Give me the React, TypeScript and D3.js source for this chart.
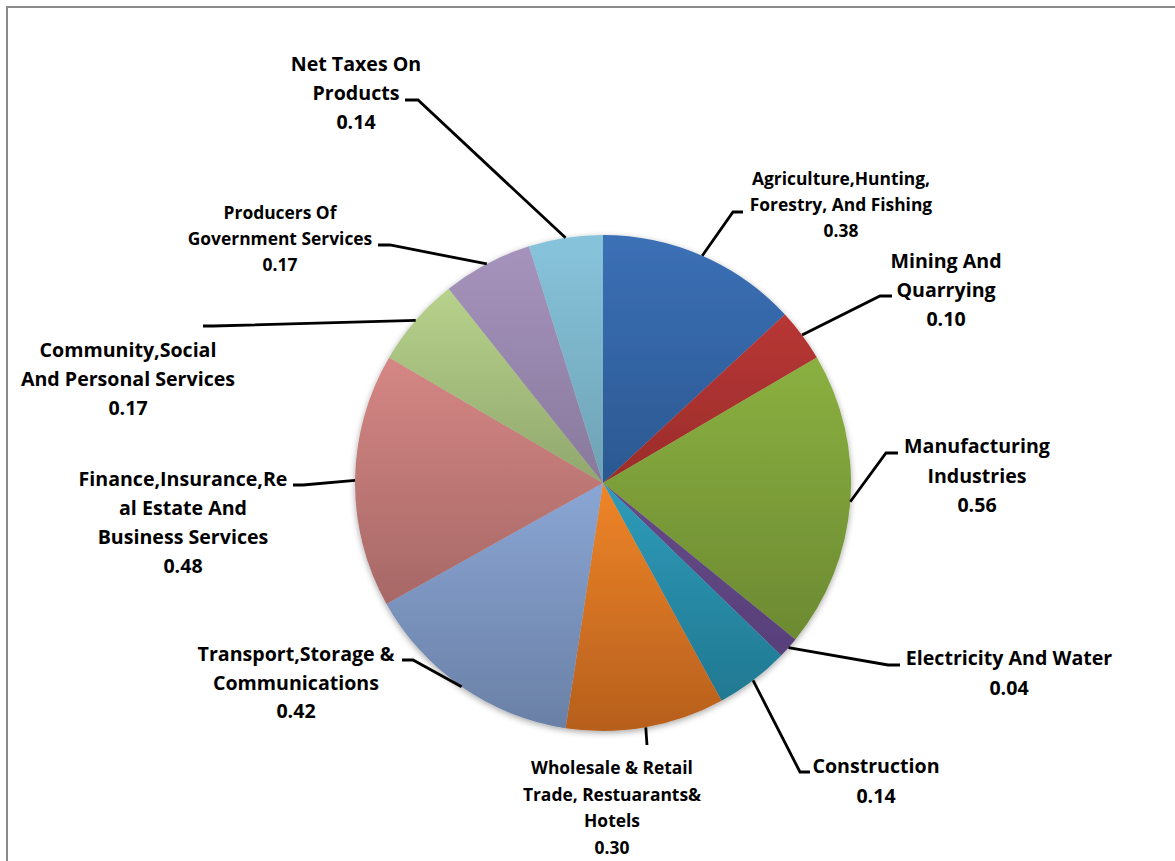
import React from 'react';
import * as d3 from 'd3';

// sector shares
const sectors = [
  'Agriculture,Hunting, Forestry, And Fishing',
  'Mining And Quarrying',
  'Manufacturing Industries',
  'Electricity And Water',
  'Construction',
  'Wholesale & Retail Trade, Restuarants& Hotels',
  'Transport,Storage & Communications',
  'Finance,Insurance,Real Estate And Business Services',
  'Community,Social And Personal Services',
  'Producers Of Government Services',
  'Net Taxes On Products',
];
const values = [0.38, 0.10, 0.56, 0.04, 0.14, 0.30, 0.42, 0.48, 0.17, 0.17, 0.14];
// wrapped label lines as they appear in the chart
const labelLines = [
  ['Agriculture,Hunting,', 'Forestry, And Fishing'],
  ['Mining And', 'Quarrying'],
  ['Manufacturing', 'Industries'],
  ['Electricity And Water'],
  ['Construction'],
  ['Wholesale & Retail', 'Trade, Restuarants&', 'Hotels'],
  ['Transport,Storage &', 'Communications'],
  ['Finance,Insurance,Re', 'al Estate And', 'Business Services'],
  ['Community,Social', 'And Personal Services'],
  ['Producers Of', 'Government Services'],
  ['Net Taxes On', 'Products'],
];

// gradient top / bottom colours per slice
const topColors = ['#3b70b6', '#b83735', '#8bb040', '#654a88', '#2e9cba', '#ef8528', '#8aa6d4', '#d58784', '#b7d28c', '#a693bd', '#87c4dc'];
const bottomColors = ['#2b5891', '#9a2c2a', '#6c8a32', '#584079', '#217891', '#b65f1d', '#6a80a6', '#a66866', '#91a76d', '#88799c', '#6ea2b4'];

// label placement: centre x, first baseline, line step, font size, elbow point, elbow length
const BIG = 19.6;
const SMALL = 17.4;
const labelLayout = [
  { x: 841, y: 185, step: 26, size: SMALL, ex: 733, ey: 212, el: 10 },
  { x: 946, y: 268, step: 29, size: BIG, ex: 880, ey: 296, el: 12 },
  { x: 977, y: 453, step: 29.5, size: BIG, ex: 886, ey: 453, el: 12 },
  { x: 1009, y: 665, step: 29.5, size: BIG, ex: 888, ey: 665, el: 12 },
  { x: 876, y: 773, step: 30, size: BIG, ex: 800, ey: 772, el: 10 },
  { x: 612, y: 774, step: 26.5, size: SMALL, ex: 647, ey: 745, el: 0 },
  { x: 296, y: 661, step: 28.5, size: BIG, ex: 413, ey: 660, el: -11 },
  { x: 183, y: 486, step: 29, size: BIG, ex: 303, ey: 485, el: -10 },
  { x: 128, y: 357, step: 29, size: BIG, ex: 213, ey: 326, el: -10 },
  { x: 280, y: 219, step: 26, size: SMALL, ex: 390, ey: 245, el: -12 },
  { x: 356, y: 71, step: 29, size: BIG, ex: 418, ey: 100, el: -13 },
];

const W = 1175;
const H = 861;
const cx = 603;
const cy = 483;
const R = 248;

export default function App() {
  const pie = d3.pie<number>().sort(null).value(d => d);
  const arcs = pie(values);
  const arc = d3.arc<d3.PieArcDatum<number>>().innerRadius(0).outerRadius(R);

  return (
    <div style={{ position: 'absolute', left: 0, top: 0 }}>
      <svg width={W} height={H} style={{ display: 'block' }} fontFamily="'Open Sans', Lato, sans-serif">
        <defs>
          {arcs.map((a, i) => (
            <linearGradient key={i} id={`g${i}`} x1="0" y1="0" x2="0" y2="1">
              <stop offset="0%" stopColor={topColors[i]} />
              <stop offset="100%" stopColor={bottomColors[i]} />
            </linearGradient>
          ))}
          <filter id="shadow" x="-10%" y="-10%" width="120%" height="120%">
            <feDropShadow dx="0" dy="2" stdDeviation="3" floodColor="#000" floodOpacity="0.35" />
          </filter>
        </defs>
        <rect x={7} y={7} width={W + 20} height={H + 20} fill="#fff" stroke="#8a8a8a" strokeWidth={2} />
        <g transform={`translate(${cx},${cy})`}>
          <g filter="url(#shadow)">
            {arcs.map((a, i) => (
              <path key={i} d={arc(a) || ''} fill={`url(#g${i})`}>
                <title>{sectors[i]}</title>
              </path>
            ))}
          </g>
        </g>
        {arcs.map((a, i) => {
          const mid = (a.startAngle + a.endAngle) / 2;
          const px = cx + R * Math.sin(mid);
          const py = cy - R * Math.cos(mid);
          const L = labelLayout[i];
          const pts: [number, number][] = [[px, py], [L.ex, L.ey], [L.ex + L.el, L.ey]];
          return (
            <path key={i} d={d3.line()(pts) || ''} fill="none" stroke="#000" strokeWidth={2.8} />
          );
        })}
        {labelLines.map((lines, i) => {
          const L = labelLayout[i];
          const all = [...lines, values[i].toFixed(2)];
          return (
            <text key={i} textAnchor="middle" fontWeight="bold" fontSize={L.size} fill="#000">
              {all.map((t, j) => (
                <tspan key={j} x={L.x} y={L.y + j * L.step}>{t}</tspan>
              ))}
            </text>
          );
        })}
      </svg>
    </div>
  );
}
